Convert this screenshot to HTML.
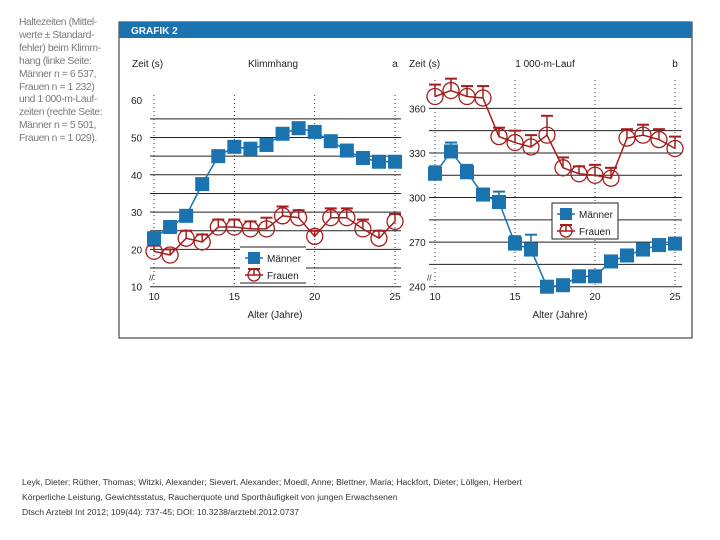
<!DOCTYPE html>
<html><head><meta charset="utf-8"><style>
body{margin:0;width:720px;height:540px;background:#fff;overflow:hidden;font-family:"Liberation Sans",sans-serif;}
#cap{position:absolute;left:19px;top:17px;font-size:10.3px;line-height:12.9px;color:#7a7a7a;letter-spacing:-0.4px;white-space:nowrap}
#foot{position:absolute;left:22px;top:475px;font-size:8.6px;line-height:15px;color:#333}
svg{position:absolute;left:0;top:0}
</style></head><body>
<div id="cap">Haltezeiten (Mittel-<br>werte ± Standard-<br>fehler) beim Klimm-<br>hang (linke Seite:<br>Männer n = 6 537,<br>Frauen n = 1 232)<br>und 1 000-m-Lauf-<br>zeiten (rechte Seite:<br>Männer n = 5 501,<br>Frauen n = 1 029).</div>
<div id="foot">Leyk, Dieter; Rüther, Thomas; Witzki, Alexander; Sievert, Alexander; Moedl, Anne; Blettner, Maria; Hackfort, Dieter; Löllgen, Herbert<br>Körperliche Leistung, Gewichtsstatus, Raucherquote und Sporthäufigkeit von jungen Erwachsenen<br>Dtsch Arztebl Int 2012; 109(44): 737-45; DOI: 10.3238/arztebl.2012.0737</div>
<svg id="s" width="720" height="540" xmlns="http://www.w3.org/2000/svg" font-family="Liberation Sans, sans-serif">
<rect x="119" y="22" width="573" height="316" fill="none" stroke="#222" stroke-width="1"/>
<rect x="119" y="22" width="573" height="16" fill="#1a72ae"/>
<text x="131" y="34" font-size="10" font-weight="bold" fill="#fff">GRAFIK 2</text>
</svg>
<script>
const ages=[10,11,12,13,14,15,16,17,18,19,20,21,22,23,24,25];
const menA=[23,26,29,37.5,45,47.5,47,48,51,52.5,51.5,49,46.5,44.5,43.5,43.5];
const womenA=[19.5,18.5,23,22,26,26,25.5,25.5,29,28.5,23.5,28.5,28.5,25.5,23,27.5];
const womenAErr=[1.5,1.5,2,2,2,2,2,3,2.5,2,1.5,2.5,2.5,2.5,2,2];
const menB=[316,331,317,302,297,269,265,240,241,247,247,257,261,265,268,269];
const menBErr=[5,6,5,4,7,5,10,0,0,0,0,0,0,0,0,0];
const womenB=[368,372,368,367,341,337,334,342,320,316,315,313,340,342,339,333];
const womenBErr=[8,8,7,8,6,8,8,13,7,5,7,7,6,7,7,8];
const ticksA=[10,20,30,40,50,60];
const ticksB=[240,270,300,330,360];
const xTicks=[10,15,20,25];
const NS='http://www.w3.org/2000/svg';
const svg=document.getElementById('s');
const BLUE='#1a72ae',RED='#a51d1d';
function el(t,a,p){const e=document.createElementNS(NS,t);for(const k in a)e.setAttribute(k,a[k]);(p||svg).appendChild(e);return e;}
function txt(x,y,s,size,anchor,p){const e=el('text',{x:x,y:y,'font-size':size,'text-anchor':anchor||'start',fill:'#222'},p);e.textContent=s;return e;}
function panel(cfg){
  const g=el('g',{});
  
  
  const X=v=>cfg.x0+(v-10)*cfg.xs, Y=v=>cfg.y0-(v-cfg.ymin)*cfg.ys;
  for(let v=cfg.ymin;v<=cfg.gmax;v+=cfg.gstep){const l=el('line',{x1:cfg.gx1,x2:cfg.gx2,y1:Y(v),y2:Y(v),stroke:'#222','stroke-width':1},g);
    }
  xTicks.forEach(t=>{const l=el('line',{x1:X(t),x2:X(t),y1:cfg.vtop,y2:cfg.y0,stroke:'#333','stroke-width':1,'stroke-dasharray':'1,3'},g);
    
    const tt=txt(X(t),300,String(t),10,'middle',g);});
  cfg.ticks.forEach(t=>{const tt=txt(cfg.lx,Y(t)+4,String(t),10,'start',g);});
  const t1=txt(cfg.zx,67,'Zeit (s)',10,'start',g);
  const t2=txt(cfg.tx,67,cfg.title,10,'middle',g);
  const t3=txt(cfg.lbx,67,cfg.letter,10,'middle',g);
  const t4=txt(cfg.ax,318,'Alter (Jahre)',10,'middle',g);
  const pw=el('polyline',{points:ages.map((a,i)=>X(a)+','+Y(cfg.w[i])).join(' '),fill:'none',stroke:RED,'stroke-width':1.5},g);
  
  ages.forEach((a,i)=>{const cx=X(a),cy=Y(cfg.w[i]),ty=Y(cfg.w[i]+cfg.we[i]);
    el('line',{x1:cx,x2:cx,y1:cy,y2:ty,stroke:RED,'stroke-width':1.5},g);
    el('line',{x1:cx-6,x2:cx+6,y1:ty,y2:ty,stroke:RED,'stroke-width':2},g);
    const c=el('circle',{cx:cx,cy:cy,r:8,fill:'none',stroke:RED,'stroke-width':1.3},g);
    });
  const pm=el('polyline',{points:ages.map((a,i)=>X(a)+','+Y(cfg.m[i])).join(' '),fill:'none',stroke:BLUE,'stroke-width':1.5},g);
  
  ages.forEach((a,i)=>{const cx=X(a),cy=Y(cfg.m[i]);
    if(cfg.me&&cfg.me[i]>0){const ty=Y(cfg.m[i]+cfg.me[i]);el('line',{x1:cx,x2:cx,y1:cy,y2:ty,stroke:BLUE,'stroke-width':1.5},g);el('line',{x1:cx-6,x2:cx+6,y1:ty,y2:ty,stroke:BLUE,'stroke-width':2},g);}
    const r=el('rect',{x:cx-7,y:cy-7,width:14,height:14,fill:BLUE},g);
    });
  txt(cfg.lx+cfg.brk,cfg.y0-6,'//',8,'start',g);
  const L=cfg.leg,lg=el('g',{},g);
  
  el('rect',{x:L.x,y:L.y,width:66,height:36,fill:'#fff',stroke:L.box?'#222':'none'},lg);
  if(!L.box){el('line',{x1:L.x,x2:L.x+66,y1:L.y,y2:L.y,stroke:'#222'},lg);el('line',{x1:L.x,x2:L.x+66,y1:L.y+36,y2:L.y+36,stroke:'#222'},lg);}
  el('line',{x1:L.x+5,x2:L.x+23,y1:L.y+11,y2:L.y+11,stroke:BLUE,'stroke-width':1.5},lg);
  el('rect',{x:L.x+8,y:L.y+5,width:12,height:12,fill:BLUE},lg);
  const e1=txt(L.x+27,L.y+15,'Männer',10,'start',lg);
  el('line',{x1:L.x+5,x2:L.x+23,y1:L.y+28,y2:L.y+28,stroke:RED,'stroke-width':1.5},lg);
  el('line',{x1:L.x+8,x2:L.x+20,y1:L.y+22,y2:L.y+22,stroke:RED,'stroke-width':2},lg);
  el('line',{x1:L.x+14,x2:L.x+14,y1:L.y+22,y2:L.y+28,stroke:RED,'stroke-width':1.5},lg);
  el('circle',{cx:L.x+14,cy:L.y+28,r:6,fill:'none',stroke:RED,'stroke-width':1.3},lg);
  const e2=txt(L.x+27,L.y+32,'Frauen',10,'start',lg);
}
panel({name:'panel-klimmhang',x0:154,xs:16.07,y0:286.7,ymin:10,ys:3.73,gmax:55,gstep:5,gx1:150,gx2:401,vtop:95,ticks:ticksA,lx:131,brk:18,
  zx:132,tx:273,title:'Klimmhang',lbx:395,letter:'a',ax:275,m:menA,w:womenA,we:womenAErr,me:null,leg:{x:240,y:247,box:false}});
panel({name:'panel-1000m-lauf',x0:435,xs:16,y0:286.7,ymin:240,ys:1.486,gmax:360,gstep:15,gx1:429,gx2:682,vtop:80,ticks:ticksB,lx:409,brk:18,
  zx:409,tx:545,title:'1 000-m-Lauf',lbx:675,letter:'b',ax:560,m:menB,w:womenB,we:womenBErr,me:menBErr,leg:{x:552,y:203,box:true}});
</script>
</body></html>
